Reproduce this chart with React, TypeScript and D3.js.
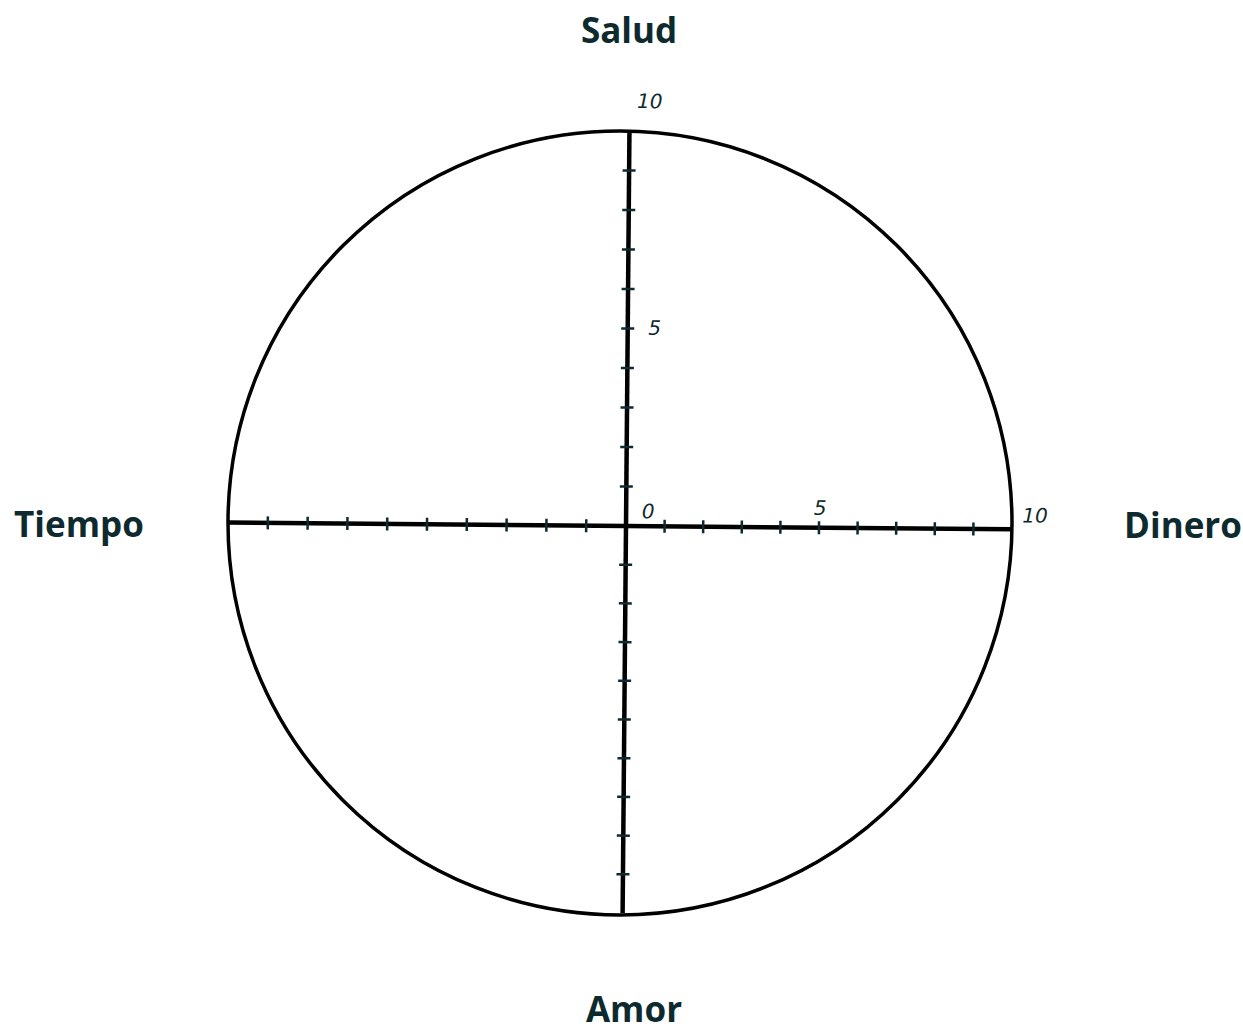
import React from 'react';
import * as d3 from 'd3';

// axes of the wheel, clockwise from top
const axisNames = ['Salud', 'Dinero', 'Amor', 'Tiempo'];
const axisAngles = [-90, 0, 90, 180];
const axisLengths = [395, 386, 387, 398]; // hand drawn, so not all equal
const tickValues = [1, 2, 3, 4, 5, 6, 7, 8, 9];
const domainMax = 10;
const topLabels = [10, 5];
const rightLabels = [0, 5, 10];

const W = 1243;
const H = 1032;
const cx = 620;
const cy = 523;
const R = 392;
const crossX = 626;
const crossY = 526;
const tilt = 0.5; // the drawing is a little off straight
const ink = '#0d2a2e';

const App: React.FC = () => {
  const scales = axisLengths.map((len) => d3.scaleLinear().domain([0, domainMax]).range([0, len]));
  const up = scales[0];
  const right = scales[1];

  const labelStyle = {
    fontFamily: 'DejaVu Sans',
    fontStyle: 'italic' as const,
    fontSize: 20,
    fill: ink,
    textAnchor: 'middle' as const,
  };

  return (
    <svg width={W} height={H} style={{ position: 'absolute', left: 0, top: 0, background: '#fff' }}>
      <circle cx={cx} cy={cy} r={R} fill="none" stroke="#000" strokeWidth={3.5} />
      <g transform={`translate(${crossX},${crossY}) rotate(${tilt})`}>
        {axisAngles.map((a, i) => (
          <g key={axisNames[i]} transform={`rotate(${a})`}>
            <line x1={0} y1={0} x2={scales[i](domainMax)} y2={0} stroke="#000" strokeWidth={4.5} />
            {tickValues.map((t) => (
              <line key={t} x1={scales[i](t)} x2={scales[i](t)} y1={-6.5} y2={6.5} stroke={ink} strokeWidth={2.5} />
            ))}
          </g>
        ))}
        {topLabels.map((v) => (
          <text key={'t' + v} x={v === 10 ? 20 : 27} y={v === 10 ? -up(v) - 23 : -up(v) + 6} {...labelStyle}>
            {v}
          </text>
        ))}
        {rightLabels.map((v) => (
          <text
            key={'r' + v}
            x={v === 0 ? 22 : v === 10 ? right(v) + 23 : right(v) + 1}
            y={v === 0 ? -8 : v === 10 ? -7 : -13}
            {...labelStyle}
          >
            {v}
          </text>
        ))}
      </g>
      <g fontFamily="'Open Sans', sans-serif" fontWeight={700} fontSize={35} fill={ink} textAnchor="middle">
        <text x={629} y={43}>{axisNames[0]}</text>
        <text x={1183} y={538}>{axisNames[1]}</text>
        <text x={634} y={1022}>{axisNames[2]}</text>
        <text x={79} y={537}>{axisNames[3]}</text>
      </g>
    </svg>
  );
};

export default App;
